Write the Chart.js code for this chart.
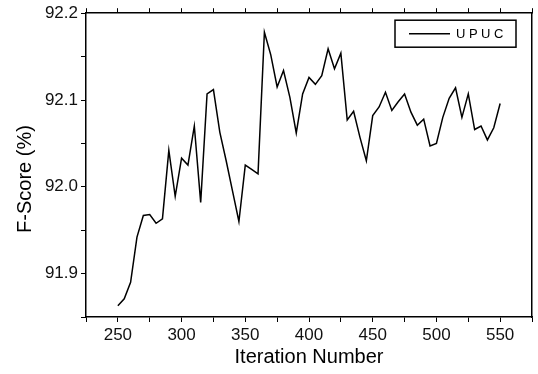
<!DOCTYPE html>
<html>
<head>
<meta charset="utf-8">
<script src="https://cdn.jsdelivr.net/npm/chart.js@4.4.1/dist/chart.umd.min.js"></script>
<style>
  html, body { margin: 0; padding: 0; background: #fff; }
  #chartWrap { width: 538px; height: 374px; }
</style>
</head>
<body>
<div id="chartWrap"><canvas id="scoreChart" width="538" height="374"></canvas></div>
<script>
const iterations = [
  250, 255, 260, 265, 270, 275, 280, 285, 290, 295,
  300, 305, 310, 315, 320, 325, 330, 335, 340, 345,
  350, 355, 360, 365, 370, 375, 380, 385, 390, 395,
  400, 405, 410, 415, 420, 425, 430, 435, 440, 445,
  450, 455, 460, 465, 470, 475, 480, 485, 490, 495,
  500, 505, 510, 515, 520, 525, 530, 535, 540, 545,
  550
];
const fScores = [
  91.863, 91.871, 91.890, 91.942, 91.967, 91.968, 91.958, 91.963, 92.042, 91.989,
  92.033, 92.025, 92.070, 91.982, 92.107, 92.112, 92.063, 92.030, 91.995, 91.960,
  92.025, 92.020, 92.015, 92.178, 92.152, 92.115, 92.134, 92.103, 92.062, 92.107,
  92.126, 92.118, 92.128, 92.159, 92.136, 92.154, 92.077, 92.087, 92.057, 92.030,
  92.082, 92.092, 92.109, 92.088, 92.098, 92.107, 92.086, 92.071, 92.078, 92.047,
  92.050, 92.080, 92.102, 92.114, 92.080, 92.107, 92.066, 92.070, 92.054, 92.068,
  92.096
];
const seriesLabel = 'UPUC';
const xTickLabels = [250, 300, 350, 400, 450, 500, 550];
const yTickLabels = [91.9, 92.0, 92.1, 92.2];

const fontFamily = "'Liberation Sans', Arial, sans-serif";
const points = iterations.map((it, i) => ({ x: it, y: fScores[i] }));

function fixSize(prop, size) {
  return (scale) => { scale[prop] = size; };
}

const tickGrid = {
  drawOnChartArea: false,
  drawTicks: true,
  tickLength: 5,
  tickColor: '#000',
  tickWidth: 1
};
const axisBorder = { color: '#000', width: 1.5 };

// legend with a frame, sitting inside the plot area (top right)
const boxedLegend = {
  id: 'boxedLegend',
  afterDraw(chart) {
    const ctx = chart.ctx;
    const area = chart.chartArea;
    const ds = chart.data.datasets[0];
    const w = 121, h = 27;
    const left = area.right - 16 - w;
    const top = area.top + 7;
    ctx.save();
    ctx.strokeStyle = '#000';
    ctx.lineWidth = 1.5;
    ctx.strokeRect(left, top, w, h);
    ctx.beginPath();
    ctx.lineWidth = ds.borderWidth;
    ctx.strokeStyle = ds.borderColor;
    ctx.moveTo(left + 14, top + h / 2);
    ctx.lineTo(left + 55, top + h / 2);
    ctx.stroke();
    ctx.fillStyle = '#000';
    ctx.font = '13px ' + fontFamily;
    ctx.letterSpacing = '3.5px';
    ctx.textBaseline = 'middle';
    ctx.fillText(ds.label, left + 61, top + h / 2 + 1);
    ctx.restore();
  }
};

const ctx = document.getElementById('scoreChart').getContext('2d');
new Chart(ctx, {
  type: 'line',
  data: {
    datasets: [
      {
        label: seriesLabel,
        data: points,
        borderColor: '#000',
        borderWidth: 1.5,
        pointRadius: 0,
        tension: 0,
        fill: false,
      },
    ],
  },
  options: {
    responsive: false,
    animation: false,
    layout: { padding: 0 },
    plugins: {
      legend: { display: false },
      tooltip: { enabled: false },
    },
    scales: {
      x: {
        type: 'linear',
        position: 'bottom',
        min: 225,
        max: 575,
        afterFit: fixSize('height', 57),
        ticks: {
          stepSize: 25,
          autoSkip: false,
          maxRotation: 0,
          padding: 3,
          color: '#111',
          font: { family: fontFamily, size: 17 },
          callback: (v) => (xTickLabels.includes(v) ? String(v) : ''),
        },
        grid: tickGrid,
        border: axisBorder,
        title: {
          display: true,
          text: 'Iteration Number',
          color: '#000',
          font: { family: fontFamily, size: 20 },
          padding: { top: 0, bottom: 5 },
        },
      },
      xTop: {
        type: 'linear',
        position: 'top',
        min: 225,
        max: 575,
        afterFit: fixSize('height', 13),
        ticks: { stepSize: 25, display: false },
        grid: tickGrid,
        border: axisBorder,
      },
      y: {
        type: 'linear',
        position: 'left',
        min: 91.85,
        max: 92.2,
        afterFit: fixSize('width', 86),
        ticks: {
          stepSize: 0.05,
          autoSkip: false,
          padding: 3,
          color: '#111',
          font: { family: fontFamily, size: 17 },
          callback: (v) => (yTickLabels.some((t) => Math.abs(t - v) < 1e-6) ? v.toFixed(1) : ''),
        },
        grid: tickGrid,
        border: axisBorder,
        title: {
          display: true,
          // trailing spaces push the centred title a bit lower, as in the original
          text: 'F-Score (%)     ',
          color: '#000',
          font: { family: fontFamily, size: 20 },
          padding: { top: 13, bottom: 0 },
        },
      },
      yRight: {
        type: 'linear',
        position: 'right',
        min: 91.85,
        max: 92.2,
        afterFit: fixSize('width', 6),
        ticks: { display: false },
        grid: { display: false, drawTicks: false },
        border: axisBorder,
      },
    },
  },
  plugins: [boxedLegend],
});
</script>
</body>
</html>
